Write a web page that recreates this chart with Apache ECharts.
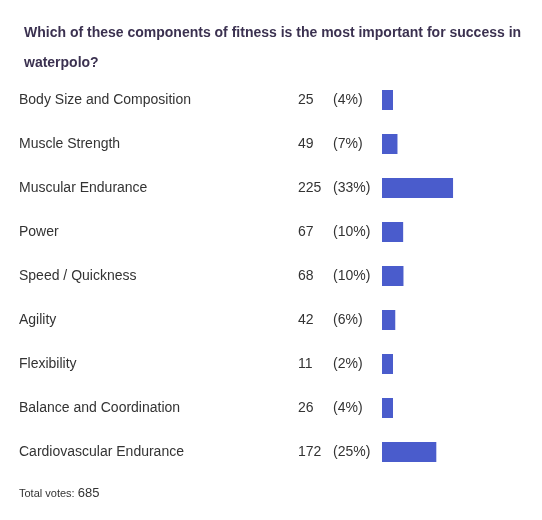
<!DOCTYPE html><html><head><meta charset="utf-8"><script src="https://cdn.jsdelivr.net/npm/echarts@6/dist/echarts.min.js"></script>
<style>html,body{margin:0;background:#fff}#c{width:542px;height:520px}</style></head><body><div id="c"></div><script>
const categories=["Body Size and Composition","Muscle Strength","Muscular Endurance","Power","Speed / Quickness","Agility","Flexibility","Balance and Coordination","Cardiovascular Endurance"];
const votes=[25,49,225,67,68,42,11,26,172];
const percents=["4%","7%","33%","10%","10%","6%","2%","4%","25%"];
const totalVotes=685;
const title="Which of these components of fitness is the most important for success in\nwaterpolo?";
const ch=echarts.init(document.getElementById('c'));
ch.setOption({
 animation:false,
 title:{text:title,left:19,top:13,textStyle:{fontFamily:'Liberation Sans',fontSize:14,fontWeight:'bold',color:'#3b3150',lineHeight:30}},
 grid:{left:382,top:78,width:150,height:396},
 xAxis:{type:'value',min:0,max:475,show:false},
 yAxis:{type:'category',data:categories,inverse:true,axisLine:{show:false},axisTick:{show:false},
  axisLabel:{align:'left',margin:363,fontFamily:'Liberation Sans',fontSize:14,color:'#333',
   formatter:(v,i)=>`{n|${v}}{c|${votes[i]}}{p|(${percents[i]})}`,
   rich:{n:{width:279,fontSize:14,color:'#333',fontFamily:'Liberation Sans'},c:{width:35,fontSize:14,color:'#333',fontFamily:'Liberation Sans'},p:{fontSize:14,color:'#333',fontFamily:'Liberation Sans'}}}},
 series:[{type:'bar',data:votes,barWidth:20,barMinHeight:11,itemStyle:{color:'#4a5ccc'}}],
 graphic:[{type:'text',left:19,top:487,style:{text:'{a|Total votes: }{b|'+totalVotes+'}',rich:{a:{fontSize:11,fill:'#333',fontFamily:'Liberation Sans'},b:{fontSize:13,fill:'#333',fontFamily:'Liberation Sans'}}}}]
});
</script></body></html>
